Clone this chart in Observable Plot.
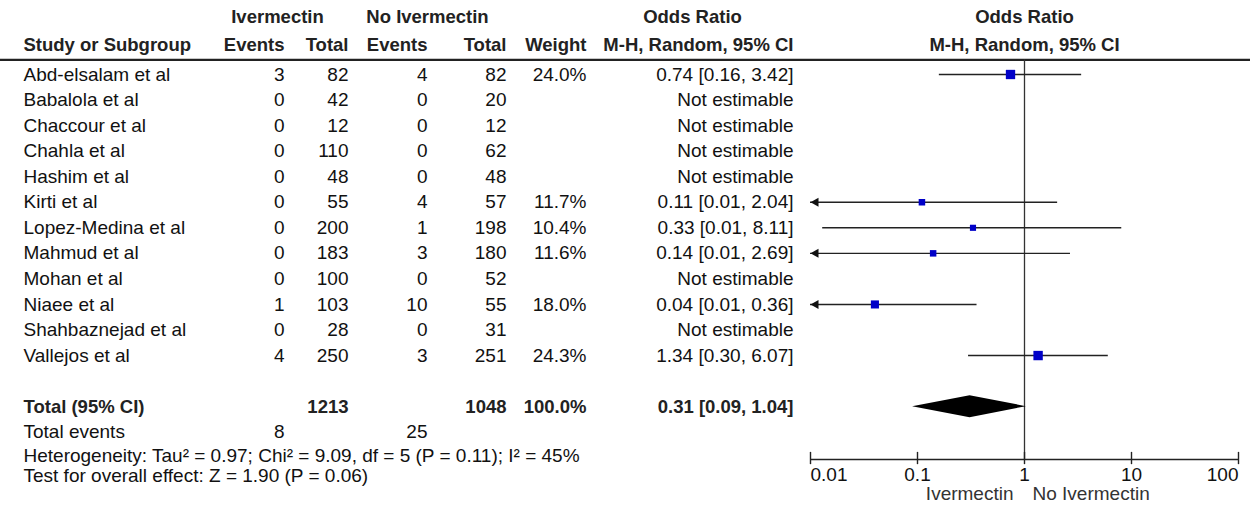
<!DOCTYPE html>
<html><head><meta charset="utf-8">
<script src="https://cdn.jsdelivr.net/npm/d3@7"></script>
<script src="https://cdn.jsdelivr.net/npm/@observablehq/plot@0.6"></script>
<style>
html,body{margin:0;padding:0;background:#fff;}
#chart{position:relative;width:1250px;height:506px;overflow:hidden;background:#fff;}
#chart svg{position:absolute;left:0;top:0;}
</style></head><body><div id="chart"></div>
<script>
// ---------------- DATA ----------------
const studies = ["Abd-elsalam et al","Babalola et al","Chaccour et al","Chahla et al","Hashim et al","Kirti et al","Lopez-Medina et al","Mahmud et al","Mohan et al","Niaee et al","Shahbaznejad et al","Vallejos et al"];
const ivmEvents = [3,0,0,0,0,0,0,0,0,1,0,4];
const ivmTotal  = [82,42,12,110,48,55,200,183,100,103,28,250];
const ctlEvents = [4,0,0,0,0,4,1,3,0,10,0,3];
const ctlTotal  = [82,20,12,62,48,57,198,180,52,55,31,251];
const weights   = [24.0,null,null,null,null,11.7,10.4,11.6,null,18.0,null,24.3];
const orEst     = [0.74,null,null,null,null,0.11,0.33,0.14,null,0.04,null,1.34];
const orLow     = [0.16,null,null,null,null,0.006,0.013,0.007,null,0.006,null,0.30];
const orHigh    = [3.42,null,null,null,null,2.04,8.11,2.69,null,0.36,null,6.07];

const totalIvm = 1213, totalCtl = 1048, totalWeight = 100.0;
const totalEventsIvm = 8, totalEventsCtl = 25;
const pooledEst = 0.31, pooledLow = 0.09, pooledHigh = 1.04;

const groupNames = ["Ivermectin", "No Ivermectin"];
const colHeaders = ["Study or Subgroup", "Events", "Total", "Events", "Total", "Weight", "M-H, Random, 95% CI"];
const effectTitle = "Odds Ratio";
const effectSub = "M-H, Random, 95% CI";
const totalLabel = "Total (95% CI)";
const totalEventsLabel = "Total events";
const notEstimable = "Not estimable";
const heterogeneity = "Heterogeneity: Tau\u00b2 = 0.97; Chi\u00b2 = 9.09, df = 5 (P = 0.11); I\u00b2 = 45%";
const overallTest = "Test for overall effect: Z = 1.90 (P = 0.06)";
const axisTicks = [0.01, 0.1, 1, 10, 100];
const axisTickLabels = ["0.01", "0.1", "1", "10", "100"];

// ---------------- LAYOUT (styles, not data) ----------------
const FONT = "'Liberation Sans', Arial, Helvetica, sans-serif";
const FS = 19, FSB = 18.5;
const col = {study: 23, ev1: 284, tot1: 348, ev2: 427, tot2: 506, weight: 586, orText: 793};
const grp = {ivm: 277, ctl: 427, orHead: 692};
const row = {head1: -2.23, head2: -1.17, rule: -0.57, total: 13, events: 14, het: 14.91, test: 15.73,
             axis: 15.07, tickLab: 15.69, dir: 16.42};
const yScale = {type: "linear", domain: [0, 11], range: [74, 355.05], axis: null};
const TXT = "#111", HEAD = "#222";

// ---------------- BUILD ----------------
const rows = studies.map((s, i) => ({i, study: s, ev1: ivmEvents[i], tot1: ivmTotal[i], ev2: ctlEvents[i],
  tot2: ctlTotal[i], w: weights[i], est: orEst[i], lo: orLow[i], hi: orHigh[i]}));
const f2 = v => v.toFixed(2);
const orLabel = d => d.est == null ? notEstimable : `${f2(d.est)} [${f2(d.lo)}, ${f2(d.hi)}]`;
const estRows = rows.filter(d => d.est != null);

const headerPos = [col.study, col.ev1, col.tot1, col.ev2, col.tot2, col.weight, col.orText];
const headers = colHeaders.map((t, k) => ({text: t, x: headerPos[k], anchor: k === 0 ? "start" : "end"}));
const groupHdr = [{text: groupNames[0], x: grp.ivm}, {text: groupNames[1], x: grp.ctl}, {text: effectTitle, x: grp.orHead}];

const totalRowEnd = [
  {x: col.tot1, text: String(totalIvm)},
  {x: col.tot2, text: String(totalCtl)},
  {x: col.weight, text: totalWeight.toFixed(1) + "%"},
  {x: col.orText, text: `${f2(pooledEst)} [${f2(pooledLow)}, ${f2(pooledHigh)}]`}
];
const eventsRow = [{x: col.ev1, text: String(totalEventsIvm)}, {x: col.ev2, text: String(totalEventsCtl)}];

const txt = (data, o) => Plot.text(data, {fill: TXT, fontSize: FS, ...o});

const table = Plot.plot({
  width: 1250, height: 506, margin: 0,
  x: {type: "linear", domain: [0, 1250], range: [0, 1250], axis: null},
  y: yScale,
  style: {fontFamily: FONT, background: "transparent"},
  marks: [
    Plot.text(groupHdr, {x: "x", y: () => row.head1, text: "text", textAnchor: "middle", fontWeight: "bold", fontSize: FSB, fill: HEAD}),
    Plot.text(headers.filter(h => h.anchor === "start"), {x: "x", y: () => row.head2, text: "text", textAnchor: "start", fontWeight: "bold", fontSize: FSB, fill: HEAD}),
    Plot.text(headers.filter(h => h.anchor === "end"), {x: "x", y: () => row.head2, text: "text", textAnchor: "end", fontWeight: "bold", fontSize: FSB, fill: HEAD}),
    Plot.ruleY([row.rule], {x1: 0, x2: 1250, stroke: "#222", strokeWidth: 2.2}),
    txt(rows, {x: () => col.study, y: "i", text: "study", textAnchor: "start"}),
    txt(rows, {x: () => col.ev1, y: "i", text: "ev1", textAnchor: "end"}),
    txt(rows, {x: () => col.tot1, y: "i", text: "tot1", textAnchor: "end"}),
    txt(rows, {x: () => col.ev2, y: "i", text: "ev2", textAnchor: "end"}),
    txt(rows, {x: () => col.tot2, y: "i", text: "tot2", textAnchor: "end"}),
    txt(estRows, {x: () => col.weight, y: "i", text: d => d.w.toFixed(1) + "%", textAnchor: "end"}),
    txt(rows, {x: () => col.orText, y: "i", text: orLabel, textAnchor: "end"}),
    Plot.text([totalLabel], {x: () => col.study, y: () => row.total, text: d => d, textAnchor: "start", fontWeight: "bold", fontSize: FSB, fill: HEAD}),
    Plot.text(totalRowEnd, {x: "x", y: () => row.total, text: "text", textAnchor: "end", fontWeight: "bold", fontSize: FSB, fill: HEAD}),
    txt([totalEventsLabel], {x: () => col.study, y: () => row.events, text: d => d, textAnchor: "start"}),
    txt(eventsRow, {x: "x", y: () => row.events, text: "text", textAnchor: "end"}),
    txt([heterogeneity], {x: () => col.study, y: () => row.het, text: d => d, textAnchor: "start"}),
    txt([overallTest], {x: () => col.study, y: () => row.test, text: d => d, textAnchor: "start"})
  ]
});

const leftArrow = {draw(ctx) { ctx.moveTo(0, 0); ctx.lineTo(8, -4.5); ctx.lineTo(8, 4.5); ctx.closePath(); }};
const H = 0.43;
const diamond = [
  {x: pooledLow, y1: row.total, y2: row.total},
  {x: pooledEst, y1: row.total - H, y2: row.total + H},
  {x: pooledHigh, y1: row.total, y2: row.total}
];
const xMin = axisTicks[0], xMax = axisTicks[axisTicks.length - 1];
const tickData = axisTicks.map((v, k) => ({v, label: axisTickLabels[k], k}));

const forest = Plot.plot({
  width: 1250, height: 506, margin: 0,
  x: {type: "log", domain: [xMin, xMax], range: [810, 1238], axis: null},
  y: yScale,
  r: {type: "sqrt", domain: [0, 24.3], range: [0, 5.3]},
  style: {fontFamily: FONT, background: "transparent"},
  marks: [
    Plot.text([effectTitle], {x: () => 1, y: () => row.head1, text: d => d, fontWeight: "bold", fontSize: FSB, fill: HEAD}),
    Plot.text([effectSub], {x: () => 1, y: () => row.head2, text: d => d, fontWeight: "bold", fontSize: FSB, fill: HEAD}),
    Plot.ruleX([1], {y1: row.rule, y2: row.axis, stroke: "#333", strokeWidth: 1.3}),
    Plot.ruleY(estRows, {y: "i", x1: d => Math.max(d.lo, xMin), x2: d => Math.min(d.hi, xMax), stroke: "#222", strokeWidth: 1.4}),
    Plot.dot(estRows.filter(d => d.lo < xMin), {x: () => xMin, y: "i", symbol: leftArrow, fill: "#111", stroke: "none"}),
    Plot.dot(estRows, {x: "est", y: "i", r: "w", symbol: "square", fill: "#0000c8", stroke: "none"}),
    Plot.areaY(diamond, {x: "x", y1: "y1", y2: "y2", fill: "#000"}),
    Plot.ruleY([row.axis], {x1: xMin, x2: xMax, stroke: "#222", strokeWidth: 1.4}),
    Plot.ruleX(axisTicks, {x: d => d, y1: row.axis - 0.28, y2: row.axis + 0.2, stroke: "#222", strokeWidth: 1.4}),
    txt(tickData.filter(d => d.k === 0), {x: "v", y: () => row.tickLab, text: "label", textAnchor: "start"}),
    txt(tickData.filter(d => d.k > 0 && d.k < axisTicks.length - 1), {x: "v", y: () => row.tickLab, text: "label", textAnchor: "middle"}),
    txt(tickData.filter(d => d.k === axisTicks.length - 1), {x: "v", y: () => row.tickLab, text: "label", textAnchor: "end"}),
    txt([groupNames[0]], {x: () => 1, y: () => row.dir, text: d => d, textAnchor: "end", dx: -11, fill: "#333"}),
    txt([groupNames[1]], {x: () => 1, y: () => row.dir, text: d => d, textAnchor: "start", dx: 8, fill: "#333"})
  ]
});

const el = document.getElementById("chart");
el.appendChild(table);
el.appendChild(forest);
</script></body></html>
